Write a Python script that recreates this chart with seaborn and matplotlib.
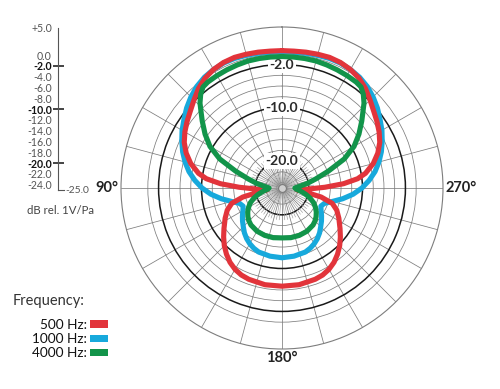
import numpy as np
import pandas as pd
import matplotlib.pyplot as plt
from matplotlib.patches import Patch
import seaborn as sns

# =========================
# Data (dB rel. 1V/Pa), read off one half of the polar plot (0-180 deg);
# the pattern is symmetric, the other half is mirrored
# =========================
red_deg = [0, 5, 10, 15, 20, 25, 30, 35, 40, 45, 50, 55, 60, 65, 70, 75, 80,
           83, 86, 89, 93, 97, 100, 103, 107, 112, 118, 125, 130, 135, 140,
           145, 150, 155, 160, 170, 180]
red_db = [0.6, 0.6, 0.7, 0.8, 0.9, 0.8, 0.5, 0.0, -0.8, -1.8, -2.7, -3.4,
          -4.1, -4.9, -6.0, -7.4, -9.2, -10.8, -13.5, -17.0, -20.5, -22.2,
          -20.5, -17.5, -15.2, -14.0, -13.0, -11.8, -10.8, -9.8, -8.9, -8.1,
          -7.5, -7.1, -6.9, -6.7, -6.7]

blue_deg = [0, 5, 10, 15, 20, 25, 30, 35, 40, 45, 50, 55, 60, 65, 70, 75, 80,
            85, 90, 95, 100, 105, 110, 115, 120, 125, 130, 135, 140, 145, 150,
            155, 160, 170, 180]
blue_db = [0.4, 0.4, 0.5, 0.6, 0.7, 0.7, 0.5, 0.2, -0.3, -1.0, -1.8, -2.7,
           -3.5, -4.4, -5.3, -6.3, -7.4, -8.7, -10.1, -11.7, -13.5, -15.3,
           -16.6, -17.0, -16.6, -16.0, -15.4, -14.8, -14.1, -13.5, -13.0,
           -12.6, -12.3, -12.1, -12.0]

green_deg = [0, 5, 10, 15, 20, 25, 30, 35, 38, 41, 44, 47, 50, 55, 60, 65, 70,
             75, 80, 85, 90, 95, 100, 105, 110, 115, 120, 125, 130, 135, 140,
             150, 160, 170, 180]
green_db = [-0.5, -0.5, -0.5, -0.5, -0.6, -0.7, -0.8, -0.9, -1.1, -1.9, -3.0,
            -4.4, -5.6, -7.5, -9.5, -12.2, -15.8, -18.5, -20.3, -21.8, -22.6,
            -22.3, -21.4, -20.4, -19.4, -18.5, -17.8, -17.2, -16.7, -16.3,
            -16.0, -15.7, -15.6, -15.6, -15.7]

freq_labels = ["500 Hz", "1000 Hz", "4000 Hz"]
freq_colors = ["#e2343b", "#17a9dc", "#12944a"]

scale_ticks = [5, 0, -2, -4, -6, -8, -10, -12, -14, -16, -18, -20, -22, -24]
bold_ticks = [-2, -10, -20]


def full_circle(deg, db):
    deg = np.array(deg, dtype=float)
    db = np.array(db, dtype=float)
    theta = np.r_[deg, 360 - deg[-2::-1]]
    r = np.r_[db, db[-2::-1]]
    return np.deg2rad(theta), r


rows = []
for name, deg, db in [("1000 Hz", blue_deg, blue_db),
                      ("500 Hz", red_deg, red_db),
                      ("4000 Hz", green_deg, green_db)]:
    th, r = full_circle(deg, db)
    rows.append(pd.DataFrame({"theta": th, "level": r, "freq": name}))
df = pd.concat(rows, ignore_index=True)

# =========================
# Style
# =========================
sns.set_style("white")
plt.rcParams["font.family"] = ["Lato", "DejaVu Sans"]

W, H = 500, 389
fig = plt.figure(figsize=(W / 100, H / 100), dpi=100)

cx, cy, R = 282, 188, 161
ax = fig.add_axes([(cx - R) / W, (H - cy - R) / H, 2 * R / W, 2 * R / H],
                  projection="polar")
ax.set_theta_zero_location("N")
ax.set_theta_direction(1)
ax.set_ylim(-25, 5)

# grid
ax.set_yticks(np.arange(-24, 1, 2))
ax.set_yticklabels([])
ax.set_thetagrids(np.arange(0, 360, 15), labels=[""] * 24)
ax.grid(True, color="#7d7d7d", linewidth=0.55)
for val, gl in zip(np.arange(-24, 1, 2), ax.yaxis.get_gridlines()):
    if val in bold_ticks:
        gl.set_color("#1a1a1a")
        gl.set_linewidth(1.1)
ax.spines["polar"].set_color("#7d7d7d")
ax.spines["polar"].set_linewidth(0.8)
# dense spokes near centre
fine = np.deg2rad([a for a in range(0, 360, 5) if a % 15 != 0])
ax.vlines(fine, -25, -19, color="#9a9a9a", linewidth=0.45, zorder=1)

# radial labels on the 0 deg axis
for val in bold_ticks:
    ax.text(0, val, f"{val:.1f}", ha="center", va="center", fontsize=10,
            fontweight="bold", color="#2a2a2a", zorder=2.5,
            bbox=dict(boxstyle="square,pad=0.15", fc="white", ec="none"))

sns.lineplot(data=df, x="theta", y="level", hue="freq",
             hue_order=["1000 Hz", "500 Hz", "4000 Hz"],
             palette={k: c for k, c in zip(freq_labels, freq_colors)},
             sort=False, estimator=None, linewidth=3.7, legend=False,
             ax=ax, zorder=3)
for line in ax.get_lines():
    line.set_solid_joinstyle("round")
ax.set_xlabel("")
ax.set_ylabel("")

ax.scatter([0], [-25], s=32, facecolor="#d0d0d0", edgecolor="#7a7a7a",
           linewidth=0.8, zorder=4)

# angle labels
for ang, lab, ha, va in [(90, "90°", "right", "center"),
                         (270, "270°", "left", "center"),
                         (180, "180°", "center", "top")]:
    ax.text(np.deg2rad(ang), 5.4, lab, ha=ha, va=va, fontsize=10.5,
            fontweight="bold", color="#222222")

# =========================
# Level scale on the left
# =========================
sc = fig.add_axes([58 / W, (H - 190) / H, 6 / W, 162 / H])
sc.set_ylim(-25, 5)
sc.set_xlim(0, 1)
sc.patch.set_visible(False)
for s in ["top", "right"]:
    sc.spines[s].set_visible(False)
for s in ["left", "bottom"]:
    sc.spines[s].set_color("#555555")
    sc.spines[s].set_linewidth(0.8)
sc.set_xticks([])
sc.set_yticks(scale_ticks)
sc.set_yticklabels([("+" if v > 0 else "") + f"{v:.1f}" for v in scale_ticks])
sc.tick_params(axis="y", length=3, width=0.6, pad=1.5, labelsize=7.6,
               colors="#555555")
for lab, v in zip(sc.get_yticklabels(), scale_ticks):
    if v in bold_ticks:
        lab.set_fontweight("bold")
        lab.set_color("#111111")
sc.hlines(bold_ticks, -0.9, 1.0, color="#111111", linewidth=1.1,
          clip_on=False)
sc.text(1.2, -25, "-25.0", ha="left", va="center", fontsize=7.4,
        color="#555555")
fig.text(27 / W, 1 - 211 / H, "dB rel. 1V/Pa", ha="left", va="center",
         fontsize=8.2, color="#444444")

# =========================
# Legend
# =========================
fig.text(13 / W, 1 - 301 / H, "Frequency:", ha="left", va="center",
         fontsize=10.5, color="#333333")
handles = [Patch(facecolor=c, edgecolor="none") for c in freq_colors]
leg = fig.legend(handles, [f + ":" for f in freq_labels],
                 loc="upper right", bbox_to_anchor=(108 / W, 1 - 319 / H),
                 frameon=False, markerfirst=False,
                 fontsize=9.8, handlelength=1.35,
                 handleheight=0.45, handletextpad=0.2, labelspacing=0.16,
                 borderaxespad=0, borderpad=0)
for t in leg.get_texts():
    t.set_color("#111111")

fig.savefig("out.png", dpi=100, facecolor="white")
